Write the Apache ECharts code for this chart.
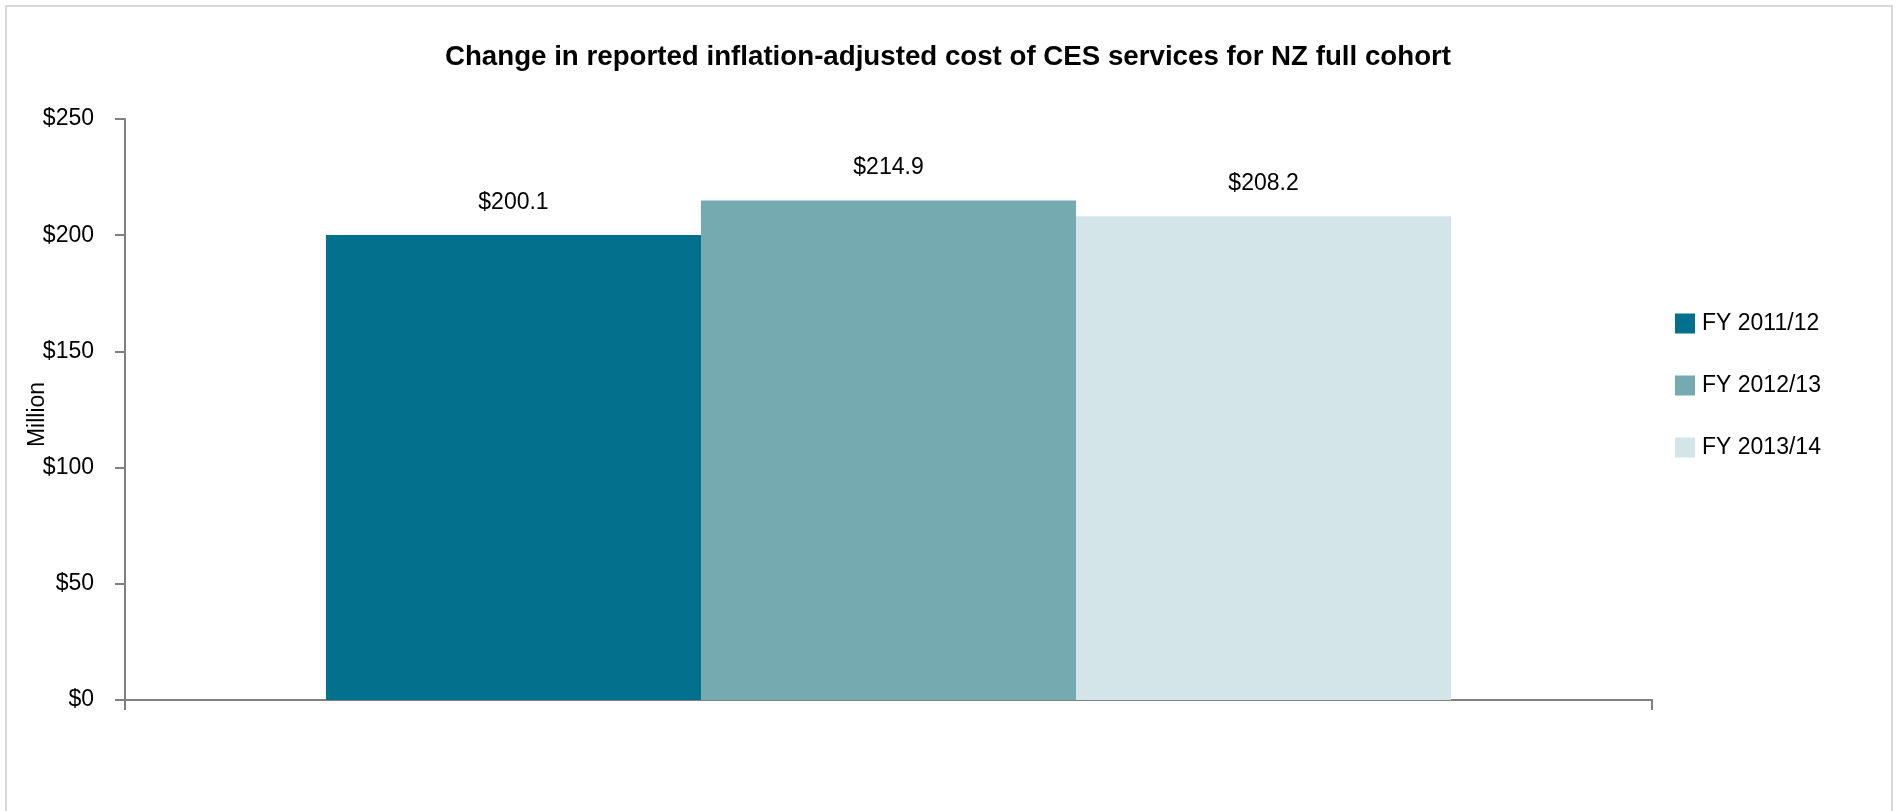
<!DOCTYPE html>
<html>
<head>
<meta charset="utf-8">
<title>CES services cost</title>
<script src="https://cdn.jsdelivr.net/npm/echarts@6/dist/echarts.min.js"></script>
<style>
  html, body { margin: 0; padding: 0; background: #ffffff; }
  #chart { width: 1896px; height: 811px; }
</style>
</head>
<body>
<div id="chart"></div>
<script>
// Inflation-adjusted cost of CES services, NZ full cohort ($ million)
const categories = ['NZ full cohort'];
const seriesNames = ['FY 2011/12', 'FY 2012/13', 'FY 2013/14'];
const seriesValues = [[200.1], [214.9], [208.2]];
const seriesColors = ['#03708d', '#75abb0', '#d3e5e9'];
const yTicks = { min: 0, max: 250, interval: 50 };

const FONT = '"Liberation Sans", Arial, sans-serif';

const chart = echarts.init(document.getElementById('chart'), null, { renderer: 'canvas' });

const series = seriesNames.map((name, i) => ({
  name: name,
  type: 'bar',
  data: seriesValues[i],
  barWidth: '24.56%',
  barGap: '0%',
  itemStyle: { color: seriesColors[i] },
  label: {
    show: true,
    position: 'top',
    distance: 21,
    color: '#000000',
    fontFamily: FONT,
    fontSize: 23,
    formatter: p => '$' + p.value.toFixed(1)
  }
}));

chart.setOption({
  backgroundColor: '#ffffff',
  animation: false,
  title: {
    text: 'Change in reported inflation-adjusted cost of CES services for NZ full cohort',
    left: 'center',
    top: 38,
    textStyle: { fontFamily: FONT, fontSize: 27.7, fontWeight: 'bold', color: '#000000' }
  },
  graphic: [{
    type: 'rect',
    shape: { x: 6, y: 6, width: 1886, height: 812 },
    style: { fill: 'none', stroke: '#d9d9d9', lineWidth: 2 },
    silent: true
  }],
  legend: {
    orient: 'vertical',
    left: 1675,
    top: 312,
    padding: 0,
    itemWidth: 20,
    itemHeight: 20,
    itemGap: 39,
    icon: 'rect',
    data: seriesNames,
    textStyle: { fontFamily: FONT, fontSize: 23, color: '#000000', lineHeight: 20, padding: [0, 0, 0, 2] }
  },
  grid: { left: 125, right: 244, top: 119, bottom: 111, containLabel: false },
  xAxis: {
    type: 'category',
    data: categories,
    axisLine: { show: true, lineStyle: { color: '#808080', width: 2 } },
    axisTick: { show: true, length: 10, lineStyle: { color: '#808080', width: 2 } },
    axisLabel: { show: false },
    splitLine: { show: false }
  },
  yAxis: {
    type: 'value',
    min: yTicks.min,
    max: yTicks.max,
    interval: yTicks.interval,
    name: 'Million',
    nameLocation: 'middle',
    nameGap: 76,
    nameMoveOverlap: false,
    nameRotate: 90,
    nameTextStyle: { fontFamily: FONT, fontSize: 23, color: '#000000', padding: [0, 10, 0, 0] },
    axisLine: { show: true, lineStyle: { color: '#808080', width: 2 } },
    axisTick: { show: true, length: 10, lineStyle: { color: '#808080', width: 2 } },
    axisLabel: {
      margin: 31,
      fontFamily: FONT,
      fontSize: 23,
      color: '#000000',
      formatter: v => '$' + v
    },
    splitLine: { show: false }
  },
  series: series
});
</script>
</body>
</html>
